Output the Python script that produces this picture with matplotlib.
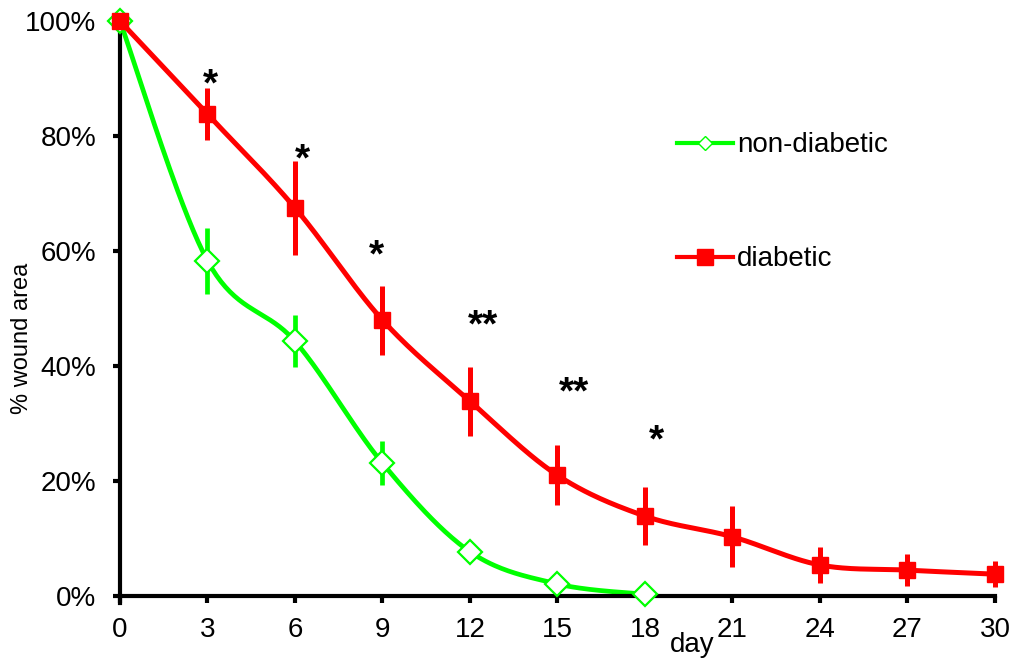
import numpy as np
import matplotlib
matplotlib.use("Agg")
import matplotlib.pyplot as plt
from matplotlib.lines import Line2D

plt.rcParams['font.family'] = ['Liberation Sans', 'DejaVu Sans']

# Wound closure over time (% of initial wound area)
days = [0, 3, 6, 9, 12, 15, 18, 21, 24, 27, 30]
diabetic = [100, 83.8, 67.5, 48.0, 33.9, 21.0, 13.9, 10.3, 5.4, 4.5, 3.8]
diabetic_err = [0, 4.5, 8.2, 6.0, 6.0, 5.2, 5.0, 5.3, 3.2, 2.8, 2.3]

days_nd = [0, 3, 6, 9, 12, 15, 18]
non_diabetic = [100, 58.3, 44.3, 23.1, 7.7, 2.1, 0.3]
non_diabetic_err = [0, 5.7, 4.5, 3.8, 1.0, 0.5, 0.2]

# Significance marks (diabetic vs non-diabetic)
sig_labels = ['*', '*', '*', '**', '**', '*']
sig_x = [3.1, 6.27, 8.78, 12.44, 15.56, 18.41]
sig_y = [91.1, 78.1, 61.4, 49.2, 37.6, 29.2]

y_ticks = [0, 20, 40, 60, 80, 100]
y_tick_labels = ['0%', '20%', '40%', '60%', '80%', '100%']
x_ticks = days


def smooth(xs, ys, n=40):
    """Bezier smoothing through every point (Catmull-Rom style tangents)."""
    P = np.column_stack([xs, ys]).astype(float)
    ext = np.vstack([P[0], P, P[-1]])
    t = np.linspace(0, 1, n)[:, None]
    out = []
    for i in range(len(P) - 1):
        p0, p1, p2, p3 = ext[i], ext[i + 1], ext[i + 2], ext[i + 3]
        c1 = p1 + (p2 - p0) / 6.0
        c2 = p2 - (p3 - p1) / 6.0
        seg = ((1 - t) ** 3) * p1 + 3 * ((1 - t) ** 2) * t * c1 + 3 * (1 - t) * t ** 2 * c2 + t ** 3 * p2
        out.append(seg if i == 0 else seg[1:])
    out = np.vstack(out)
    return out[:, 0], out[:, 1]


GREEN = '#00FF00'
RED = '#FF0000'

fig = plt.figure(figsize=(10.17, 6.58), dpi=100)
ax = fig.add_axes([0.118, 0.0942, 0.8603, 0.8738])

# non-diabetic
gx, gy = smooth(days_nd, non_diabetic)
ax.plot(gx, gy, color=GREEN, lw=3.4, zorder=2, clip_on=False)
ax.errorbar(days_nd, non_diabetic, yerr=non_diabetic_err, fmt='none',
            ecolor=GREEN, elinewidth=3.4, capsize=0, zorder=2, clip_on=False)
ax.plot(days_nd, non_diabetic, linestyle='none', marker='D', ms=12,
        mfc='white', mec=GREEN, mew=1.6, zorder=3, clip_on=False)

# diabetic
rx, ry = smooth(days, diabetic)
ax.plot(rx, ry, color=RED, lw=3.6, zorder=4, clip_on=False)
ax.errorbar(days, diabetic, yerr=diabetic_err, fmt='none',
            ecolor=RED, elinewidth=3.6, capsize=0, zorder=4, clip_on=False)
ax.plot(days, diabetic, linestyle='none', marker='s', ms=12,
        mfc=RED, mec=RED, zorder=5, clip_on=False)

SIG_FS = 28
for lab, x, y in zip(sig_labels, sig_x, sig_y):
    ax.annotate(lab, (x, y), xytext=(0, -0.6 * SIG_FS), textcoords='offset points',
                ha='center', va='baseline', fontsize=SIG_FS, fontweight='bold',
                color='black')

ax.set_xlim(0, 30)
ax.set_ylim(0, 100)
ax.set_xticks(x_ticks)
ax.set_xticklabels([str(d) for d in x_ticks])
ax.set_yticks(y_ticks)
ax.set_yticklabels(y_tick_labels)

for s in ['top', 'right']:
    ax.spines[s].set_visible(False)
for s in ['left', 'bottom']:
    ax.spines[s].set_linewidth(3)
ax.spines['left'].set_bounds(-1.3, 100)
ax.tick_params(axis='both', direction='out', length=5, width=3, labelsize=20)
ax.tick_params(axis='x', pad=10)
ax.tick_params(axis='y', pad=12)

fig.text(0.681, 0.0198, 'day', ha='center', va='center', fontsize=20)
fig.text(0.0216, 0.486, '% wound area', ha='center', va='center',
         rotation=90, fontsize=17)

handles = [
    Line2D([], [], color=GREEN, lw=3, marker='D', ms=7.5, mfc='white',
           mec=GREEN, mew=1.0),
    Line2D([], [], color=RED, lw=3, marker='s', ms=12, mfc=RED, mec=RED),
]
fig.legend(handles, ['non-diabetic', 'diabetic'], loc='center left',
           bbox_to_anchor=(0.6657, 0.6925), bbox_transform=fig.transFigure,
           frameon=False, fontsize=20, handlelength=2.0, handletextpad=0.15,
           labelspacing=3.17, borderpad=0, borderaxespad=0)

fig.savefig('out.png', dpi=100)
